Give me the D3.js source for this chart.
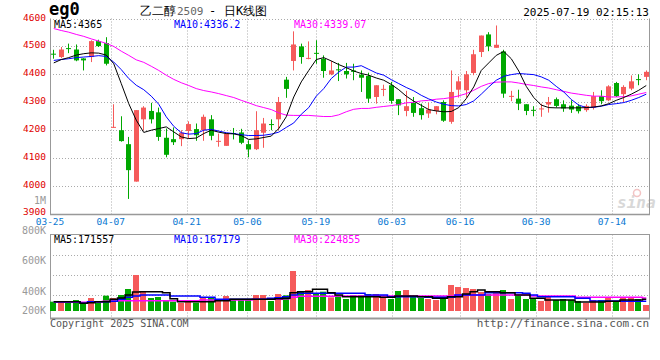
<!DOCTYPE html>
<html><head><meta charset="utf-8">
<script src="https://cdn.jsdelivr.net/npm/d3@7"></script>
<style>body{margin:0;background:#fff}svg{display:block}text{font-family:"DejaVu Sans Mono",monospace}</style>
</head><body><svg id="c" width="660" height="360"></svg>
<script>
const dates = ["03-25","03-26","03-27","03-28","03-31",
"04-01","04-02","04-03","04-07","04-08","04-09","04-10","04-11","04-14","04-15","04-16","04-17","04-18","04-21","04-22","04-23","04-24","04-25","04-28","04-29","04-30",
"05-06","05-07","05-08","05-09","05-12","05-13","05-14","05-15","05-16","05-19","05-20","05-21","05-22","05-23","05-26","05-27","05-28","05-29","05-30",
"06-03","06-04","06-05","06-06","06-09","06-10","06-11","06-12","06-13","06-16","06-17","06-18","06-19","06-20","06-23","06-24","06-25","06-26","06-27","06-30",
"07-01","07-02","07-03","07-04","07-07","07-08","07-09","07-10","07-11","07-14","07-15","07-16","07-17","07-18","07-21"];
const openP  = [4474,4462,4494,4489,4457,4462,4519,4512,4209,4200,4150,4016,4239,4269,4264,4173,4168,4168,4197,4204,4200,4239,4160,4144,4190,4192,4150,4132,4191,4222,4239,4381,4448,4500,4457,4477,4456,4400,4418,4412,4414,4399,4394,4319,4346,4361,4311,4269,4298,4279,4260,4269,4301,4230,4345,4343,4405,4480,4543,4495,4482,4320,4313,4293,4273,4276,4292,4311,4293,4288,4286,4272,4281,4322,4307,4369,4329,4349,4383,4391];
const highP  = [4488,4498,4510,4507,4458,4522,4524,4533,4293,4250,4176,4272,4286,4298,4281,4206,4210,4200,4232,4224,4256,4254,4188,4188,4208,4205,4164,4268,4244,4239,4319,4391,4554,4510,4518,4522,4468,4448,4441,4441,4438,4414,4406,4361,4363,4373,4311,4341,4319,4295,4298,4286,4307,4414,4393,4412,4488,4539,4551,4575,4488,4341,4345,4293,4286,4295,4319,4317,4307,4307,4293,4293,4337,4343,4361,4373,4361,4396,4400,4414];
const lowP   = [4456,4458,4476,4447,4414,4444,4498,4432,4209,4159,3954,4016,4200,4224,4162,4103,4147,4143,4170,4162,4162,4164,4141,4144,4167,4150,4103,4129,4137,4200,4200,4316,4414,4438,4454,4438,4388,4397,4376,4385,4379,4337,4298,4295,4322,4295,4254,4250,4248,4238,4244,4257,4230,4223,4317,4317,4397,4462,4483,4495,4316,4304,4272,4254,4250,4248,4263,4281,4266,4262,4260,4266,4274,4293,4304,4319,4301,4343,4361,4379];
const closeP = [4472,4489,4491,4450,4450,4519,4501,4438,4212,4161,4057,4272,4281,4239,4176,4112,4157,4191,4222,4182,4248,4180,4162,4188,4187,4155,4131,4200,4224,4220,4301,4348,4507,4462,4459,4474,4412,4414,4415,4400,4409,4388,4313,4361,4348,4305,4289,4286,4262,4254,4274,4286,4234,4337,4375,4400,4472,4539,4500,4506,4331,4323,4295,4269,4270,4278,4301,4287,4278,4274,4268,4287,4322,4304,4357,4322,4355,4375,4380,4409];
const ma5  = [4441,4453,4460,4469,4474,4477,4476,4469,4438,4367,4295,4236,4192,4200,4206,4212,4194,4176,4170,4172,4188,4200,4193,4188,4187,4181,4167,4169,4174,4179,4206,4248,4319,4373,4414,4453,4460,4448,4435,4424,4412,4403,4397,4387,4379,4364,4345,4322,4304,4289,4274,4269,4266,4267,4281,4313,4355,4414,4441,4468,4482,4456,4412,4357,4317,4290,4281,4280,4280,4280,4280,4281,4283,4287,4295,4307,4317,4329,4343,4360];
const ma10 = [4450,4453,4456,4460,4462,4464,4467,4464,4444,4417,4385,4361,4345,4322,4293,4248,4214,4191,4186,4188,4200,4203,4197,4191,4188,4184,4181,4181,4182,4186,4193,4210,4226,4257,4281,4322,4349,4385,4408,4426,4426,4431,4418,4405,4397,4381,4367,4353,4341,4325,4312,4301,4293,4288,4287,4292,4305,4329,4355,4379,4393,4399,4403,4401,4399,4391,4379,4357,4337,4310,4290,4281,4282,4286,4292,4295,4299,4307,4317,4329];
const ma30 = [4564,4557,4551,4543,4536,4527,4519,4511,4500,4483,4468,4452,4443,4429,4414,4397,4382,4370,4360,4349,4342,4337,4331,4324,4317,4307,4298,4288,4281,4274,4262,4254,4253,4253,4253,4251,4249,4249,4255,4266,4275,4278,4278,4282,4285,4288,4292,4298,4300,4305,4307,4311,4313,4317,4323,4331,4343,4357,4367,4372,4373,4373,4369,4364,4360,4355,4351,4345,4339,4333,4329,4325,4322,4322,4319,4319,4320,4323,4329,4335];
const volumeK = [182,182,182,214,162,253,182,299,253,312,429,702,377,253,273,208,182,156,195,162,266,273,201,292,227,227,227,312,312,195,331,305,780,377,409,351,377,266,312,234,312,312,331,331,279,234,390,409,279,253,234,214,253,507,468,448,429,370,331,351,409,234,292,234,234,195,273,214,234,214,195,156,214,214,273,195,273,253,234,117];
const volMa5K  = [182,182,182,182,150,162,182,182,228,253,312,370,377,377,377,358,240,182,182,182,182,182,201,201,228,228,228,228,228,228,240,247,358,377,377,423,423,358,312,280,280,280,280,280,267,267,292,292,292,280,280,247,247,280,280,331,377,410,377,377,358,358,312,312,247,247,214,214,214,214,176,176,176,176,189,189,214,214,214,228];
const volMa10K = [182,182,182,182,150,182,182,182,189,228,267,292,312,312,312,312,292,292,292,292,267,267,228,228,228,228,228,228,228,247,260,280,312,345,345,345,345,345,345,345,345,345,312,312,312,280,280,280,280,280,267,267,267,267,312,312,312,312,358,358,358,358,358,345,312,280,280,280,280,280,247,247,195,195,195,195,189,189,189,189];
const volMa30K = [169,169,169,169,169,169,176,188,189,201,201,201,201,201,201,201,201,201,201,201,214,214,214,214,214,214,214,228,228,228,228,240,267,286,286,286,286,286,292,292,292,292,292,292,292,292,292,292,292,292,292,292,292,292,312,312,312,312,312,312,312,312,312,312,292,292,292,292,292,292,267,267,267,267,267,267,267,267,267,254];
const priceTicks = [4600,4500,4400,4300,4200,4100,4000,3900];
const dateTicks = ["03-25","04-07","04-21","05-06","05-19","06-03","06-16","06-30","07-14"];
const volTicks = [1000000,800000,600000,400000,200000];
const volTickLabels = ["1M","800K","600K","400K","200K"];
const maLabels = ["MA5:4365","MA10:4336.2","MA30:4339.07"];
const volMaLabels = ["MA5:171557","MA10:167179","MA30:224855"];

const L=50,R=650,pTop=18.5,pBot=214,vTop=234.5,vBase=311,vBot=318.5;
const RED="#f55a5a",GREEN="#00a800",GRID="#aaa",BORDER="#999";
const svg=d3.select("#c");
const x=d3.scaleBand().domain(dates).range([L,R]);
const cx=i=>x(dates[i])+x.bandwidth()/2;
const xGrid=d3.scaleLinear().domain([0,dates.length-1]).range([L,R]);
const y=d3.scaleLinear().domain([3900,4600]).range([pBot,pTop]);
const yv=d3.scaleLinear().domain([0,1500000]).range([vBase,vBase-1500/19.5]);
const yvLab=d3.scaleLinear().domain([400000,1000000]).range([291,200]);

// grid
const g=svg.append("g");
priceTicks.slice(0,-1).forEach(p=>{
  g.append("line").attr("x1",L).attr("x2",R).attr("y1",Math.round(y(p))+0.5).attr("y2",Math.round(y(p))+0.5)
   .attr("stroke",GRID).attr("stroke-dasharray","1,2");
});
[255.5,275.5,295.5].forEach(yy=>{
  g.append("line").attr("x1",L).attr("x2",R).attr("y1",yy).attr("y2",yy).attr("stroke",GRID).attr("stroke-dasharray","1,2");
});
dateTicks.forEach(d=>{
  const xx=Math.round(xGrid(dates.indexOf(d)))+0.5;
  if(d===dateTicks[0]) return;
  g.append("line").attr("x1",xx).attr("x2",xx).attr("y1",pTop).attr("y2",pBot).attr("stroke",GRID).attr("stroke-dasharray","1,2");
  g.append("line").attr("x1",xx).attr("x2",xx).attr("y1",vTop).attr("y2",vBot+2).attr("stroke",GRID).attr("stroke-dasharray","1,2");
});

// watermark
svg.append("text").attr("x",617).attr("y",208).attr("font-family","Liberation Sans, Arial").attr("font-style","italic")
  .attr("font-weight","bold").attr("font-size",16).attr("fill","#d8d8d8").text("sina");
svg.append("circle").attr("cx",637).attr("cy",193).attr("r",3.5).attr("fill","none").attr("stroke","#f3c4c4").attr("stroke-width",1.5);

// borders
const b=svg.append("g").attr("stroke",BORDER).attr("fill","none");
b.append("line").attr("x1",L+0.5).attr("x2",L+0.5).attr("y1",pTop).attr("y2",pBot+1);
b.append("line").attr("x1",R-0.5).attr("x2",R-0.5).attr("y1",pTop).attr("y2",pBot+1);
b.append("line").attr("x1",L).attr("x2",R).attr("y1",pBot+0.5).attr("y2",pBot+0.5).attr("stroke-width",1.5);
b.append("rect").attr("x",L+0.5).attr("y",vTop).attr("width",R-L-1).attr("height",vBot-vTop);
b.append("line").attr("x1",L).attr("x2",R).attr("y1",vBot).attr("y2",vBot).attr("stroke-width",2);

// candles
const cg=svg.append("g");
dates.forEach((d,i)=>{
  const up=closeP[i]>=openP[i], col=up?RED:GREEN;
  const c=Math.floor(cx(i));
  cg.append("line").attr("x1",c+0.5).attr("x2",c+0.5).attr("y1",y(highP[i])).attr("y2",y(lowP[i])).attr("stroke",col);
  const t=y(Math.max(openP[i],closeP[i])), bt=y(Math.min(openP[i],closeP[i]));
  cg.append("rect").attr("x",c-2).attr("width",5).attr("y",t).attr("height",Math.max(1,bt-t)).attr("fill",col);
});
// MA lines
const line=d3.line().x((v,i)=>cx(i)).y(v=>y(v));
[[ma30,"#ff00ff"],[ma10,"#0000ff"],[ma5,"#000"]].forEach(([a,c])=>{
  svg.append("path").attr("d",line(a)).attr("fill","none").attr("stroke",c).attr("stroke-width",1);
});

// volume bars
const vg=svg.append("g");
volumeK.forEach((v,i)=>{
  const col=closeP[i]>=openP[i]?RED:GREEN;
  const c=Math.floor(cx(i));
  const t=yv(v*1000);
  vg.append("rect").attr("x",c-3).attr("width",6).attr("y",t).attr("height",vBase-t).attr("fill",col);
});
const vline=d3.line().x((v,i)=>cx(i)).y(v=>yv(v*1000)).curve(d3.curveStep);
[[volMa30K,"#ff00ff"],[volMa10K,"#0000ff"],[volMa5K,"#000"]].forEach(([a,c])=>{
  svg.append("path").attr("d",vline(a)).attr("fill","none").attr("stroke",c).attr("stroke-width",1.5);
});

// texts
const T=(xx,yy,s,opt={})=>{const t=svg.append("text").attr("x",xx).attr("y",yy).attr("font-size",opt.size||10)
  .attr("fill",opt.fill||"#000").attr("text-anchor",opt.anchor||"start").text(s);
  if(opt.weight) t.attr("font-weight",opt.weight); if(opt.family) t.attr("font-family",opt.family); return t;};
priceTicks.forEach(p=>T(46,Math.min(Math.round(y(p))+2,214.5),String(p),{fill:"#e00000",anchor:"end",size:9.5}));
volTicks.forEach((v,k)=>{
  const yy=yvLab(v)+3.5;
  const yb= yy<vTop ? yy : Math.min(Math.max(yy,vTop+2.2),314.2);
  T(46,yb,volTickLabels[k],{fill:"#999",anchor:"end",size:10});
});
dateTicks.forEach(d=>T(xGrid(dates.indexOf(d)),225,d,{fill:"#0a78d2",anchor:"middle",size:9.5}));
const maCols=["#000","#0000ff","#ff00ff"], maX=[54,174,294];
maLabels.forEach((s,k)=>T(maX[k],28,s,{fill:maCols[k]}));
volMaLabels.forEach((s,k)=>T(maX[k],243,s,{fill:maCols[k]}));
T(49,15,"eg0",{size:17,weight:"bold"});
T(140,15,"乙二醇",{size:12,family:"Noto Sans CJK SC"});
T(177,15,"2509",{size:11,fill:"#666",family:"DejaVu Sans"});
T(209,15,"-",{size:12});
T(224,15,"日K线图",{size:12,family:"Noto Sans CJK SC"});
T(649,16,"2025-07-19 02:15:13",{size:11,anchor:"end"});
T(50,327,"Copyright 2025 SINA.COM",{fill:"#555"});
T(649,327,"http://finance.sina.com.cn",{fill:"#555",anchor:"end",size:11});
</script></body></html>
